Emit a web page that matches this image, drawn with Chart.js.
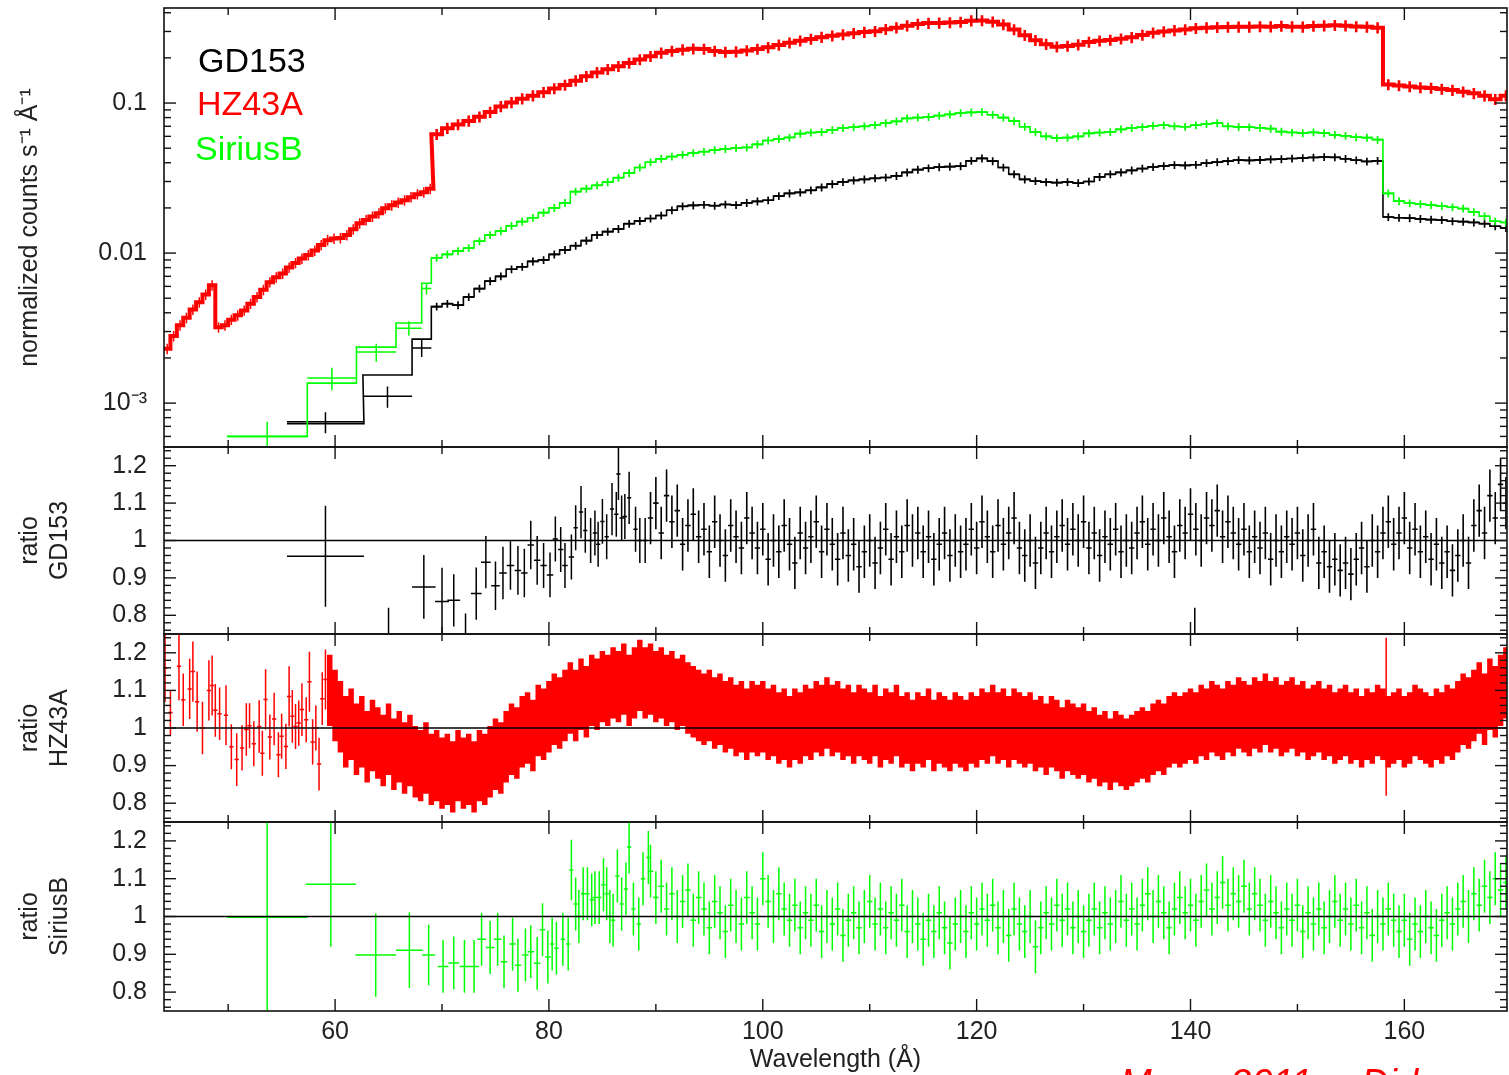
<!DOCTYPE html>
<html>
<head>
<meta charset="utf-8">
<script src="https://cdn.jsdelivr.net/npm/chart.js@4.4.1/dist/chart.umd.min.js"></script>
<style>
html,body{margin:0;padding:0;background:#fff;width:1509px;height:1075px;overflow:hidden;}
.panel{position:absolute;left:0;width:1509px;}
#note{position:absolute;left:1120px;top:1064px;font:italic 38px 'Liberation Sans',Arial,sans-serif;color:#ff0000;white-space:nowrap;word-spacing:28px;line-height:1;}
</style>
</head>
<body>
<div class="panel" style="top:0;height:457px"><canvas id="c1"></canvas></div>
<div class="panel" style="top:437px;height:207px"><canvas id="c2"></canvas></div>
<div class="panel" style="top:624px;height:208px"><canvas id="c3"></canvas></div>
<div class="panel" style="top:812px;height:263px"><canvas id="c4"></canvas></div>
<div id="note">May 2011, Dirk</div>
<script>
// ---------------- axes / ticks ----------------
const xMin = 44.0, xMax = 169.6;
const xMajorTicks = [60, 80, 100, 120, 140, 160];
const xTickLabels = ['60', '80', '100', '120', '140', '160'];
const xMinorTicks = [50, 70, 90, 110, 130, 150, 170];

const topMin = 5.1e-4, topMax = 0.43;
const topMajorTicks = [0.001, 0.01, 0.1];
const topTickLabels = ['10\u207B\u00B3', '0.01', '0.1'];
const topMinorTicks = [6e-4, 7e-4, 8e-4, 9e-4, 2e-3, 3e-3, 4e-3, 5e-3, 6e-3, 7e-3, 8e-3, 9e-3,
  0.02, 0.03, 0.04, 0.05, 0.06, 0.07, 0.08, 0.09, 0.2, 0.3, 0.4];

const ratioMin = 0.75, ratioMax = 1.25;
const ratioMajorTicks = [0.8, 0.9, 1, 1.1, 1.2];
const ratioTickLabels = ['0.8', '0.9', '1', '1.1', '1.2'];
const ratioMinorTicks = [0.76, 0.78, 0.82, 0.84, 0.86, 0.88, 0.92, 0.94, 0.96, 0.98,
  1.02, 1.04, 1.06, 1.08, 1.12, 1.14, 1.16, 1.18, 1.22, 1.24];

const seriesNames = ['GD153', 'HZ43A', 'SiriusB'];
const seriesColors = ['#000000', '#ff0000', '#00ff00'];

// ---------------- top panel: normalized counts ----------------
// GD153 wide low-resolution bins
const gdTopBinCenter = [59.1, 64.9, 68.1];
const gdTopBinHalf = [3.6, 2.3, 0.9];
const gdTopBinData = [7.5e-4, 1.11e-3, 2.33e-3];
const gdTopBinErr = [1.2e-4, 1.8e-4, 3.0e-4];
const gdTopBinModel = [7.3e-4, 1.54e-3, 2.67e-3];
// SiriusB wide bins
const sbTopBinCenter = [53.65, 59.7, 63.85, 66.9, 68.55];
const sbTopBinHalf = [3.75, 2.3, 1.85, 1.2, 0.45];
const sbTopBinData = [6.0e-4, 1.47e-3, 2.19e-3, 3.16e-3, 5.8e-3];
const sbTopBinErr = [1.5e-4, 2.5e-4, 3.0e-4, 3.5e-4, 5.0e-4];
const sbTopBinModel = [6.0e-4, 1.36e-3, 2.36e-3, 3.42e-3, 6.3e-3];
// HZ43A short-wavelength bins (start 44.3, step 0.6)
const hzTopLowStart = 44.3, hzTopLowStep = 0.6;
const hzTopLow = [2.3e-3, 2.8e-3, 3.3e-3, 3.7e-3, 4.2e-3, 4.7e-3, 5.3e-3, 6.1e-3, 3.2e-3, 3.3e-3,
  3.6e-3, 3.85e-3, 4.15e-3, 4.6e-3, 5.1e-3, 5.7e-3, 6.4e-3, 6.9e-3, 7.3e-3, 8.0e-3,
  8.6e-3, 9.2e-3, 9.7e-3, 0.0104, 0.0113, 0.0122, 0.0125, 0.0126, 0.0132, 0.0144,
  0.0158, 0.0166, 0.0175, 0.0184, 0.0199, 0.0208, 0.0217, 0.0225, 0.0236, 0.0247,
  0.0254, 0.0268];

// dense 1-A grid for all three from 69.5 A
const topGridStart = 69.5, topGridStep = 1.0;
const gdTop = [4.4e-3, 4.6e-3, 4.5e-3, 5.1e-3, 5.8e-3, 6.5e-3, 7.0e-3, 7.8e-3, 8.1e-3, 8.8e-3,
  9.0e-3, 9.8e-3, 0.0105, 0.0112, 0.0121, 0.0132, 0.0139, 0.0145, 0.0157, 0.0164,
  0.0170, 0.0178, 0.0193, 0.0205, 0.0208, 0.0210, 0.0207, 0.0211, 0.0209, 0.0216,
  0.0221, 0.0225, 0.0240, 0.0250, 0.0254, 0.0262, 0.0274, 0.0288, 0.0298, 0.0305,
  0.0310, 0.0315, 0.0319, 0.0327, 0.0345, 0.0360, 0.0368, 0.0374, 0.0377, 0.0380,
  0.0412, 0.0428, 0.0410, 0.0372, 0.0335, 0.0310, 0.0302, 0.0297, 0.0295, 0.0298,
  0.0293, 0.0300, 0.0322, 0.0335, 0.0345, 0.0356, 0.0366, 0.0375, 0.0381, 0.0386,
  0.0384, 0.0388, 0.0398, 0.0404, 0.0410, 0.0417, 0.0415, 0.0418, 0.0421, 0.0423,
  0.0427, 0.0430, 0.0434, 0.0437, 0.0435, 0.0425, 0.0416, 0.0408, 0.0412, 0.0174,
  0.0172, 0.0171, 0.0169, 0.0167, 0.0166, 0.0163, 0.0162, 0.0160, 0.0157, 0.0151, 0.0147];
const sbTop = [9.3e-3, 9.8e-3, 0.0103, 0.0108, 0.0120, 0.0132, 0.0140, 0.0152, 0.0162, 0.0172,
  0.0186, 0.0200, 0.0216, 0.0257, 0.0269, 0.0283, 0.0297, 0.0318, 0.0341, 0.0372,
  0.0403, 0.0425, 0.0440, 0.0452, 0.0465, 0.0474, 0.0486, 0.0495, 0.0501, 0.0506,
  0.0530, 0.0563, 0.0577, 0.0590, 0.0625, 0.0636, 0.0640, 0.0662, 0.0682, 0.0690,
  0.0700, 0.0714, 0.0735, 0.0755, 0.0790, 0.0800, 0.0808, 0.0825, 0.0840, 0.0858,
  0.0866, 0.0871, 0.0835, 0.0800, 0.0760, 0.0695, 0.0640, 0.0600, 0.0584, 0.0588,
  0.0600, 0.0628, 0.0636, 0.0642, 0.0668, 0.0682, 0.0692, 0.0705, 0.0712, 0.0700,
  0.0695, 0.0712, 0.0725, 0.0735, 0.0700, 0.0693, 0.0690, 0.0684, 0.0675, 0.0645,
  0.0637, 0.0630, 0.0638, 0.0630, 0.0614, 0.0605, 0.0592, 0.0588, 0.0570, 0.0250,
  0.0222, 0.0215, 0.0212, 0.0209, 0.0206, 0.0202, 0.0198, 0.0188, 0.0176, 0.0163, 0.0160];
const hzTop = [0.062, 0.068, 0.072, 0.076, 0.081, 0.087, 0.095, 0.101, 0.107, 0.112,
  0.118, 0.125, 0.132, 0.141, 0.151, 0.160, 0.168, 0.176, 0.185, 0.195,
  0.205, 0.216, 0.222, 0.227, 0.230, 0.229, 0.222, 0.219, 0.220, 0.224,
  0.229, 0.235, 0.244, 0.252, 0.260, 0.267, 0.275, 0.281, 0.286, 0.292,
  0.297, 0.301, 0.310, 0.318, 0.328, 0.336, 0.341, 0.342, 0.344, 0.347,
  0.354, 0.355, 0.348, 0.334, 0.309, 0.283, 0.262, 0.247, 0.237, 0.240,
  0.245, 0.255, 0.260, 0.263, 0.268, 0.274, 0.284, 0.294, 0.300, 0.305,
  0.309, 0.315, 0.318, 0.320, 0.321, 0.322, 0.322, 0.324, 0.323, 0.326,
  0.323, 0.322, 0.326, 0.328, 0.330, 0.328, 0.324, 0.322, 0.318, 0.133,
  0.131, 0.129, 0.127, 0.126, 0.124, 0.122, 0.119, 0.116, 0.112, 0.106, 0.112];
const gdTopRelErr = 0.06, sbTopRelErr = 0.06, hzTopRelErr = 0.085, hzTopLowRelErr = 0.08;

// ---------------- ratio panels ----------------
// GD153: individual bins
const gdRatioLowX = [59.1, 65.0, 68.3, 70.0, 71.1, 72.2, 73.2, 74.1, 75.0, 75.7,
  76.4, 77.1, 77.7, 78.3, 78.9, 79.5, 80.1, 80.6, 81.1, 81.5,
  82.1, 82.5, 83.0, 83.4, 83.9, 84.3, 84.6, 85.0, 85.4, 85.9,
  86.3, 86.5, 86.8, 87.1, 87.5, 88.1, 88.5, 89.0, 140.4];
const gdRatioLowHalf = [3.6, 2.3, 1.1, 0.65, 0.6, 0.5, 0.5, 0.45, 0.4, 0.35,
  0.35, 0.3, 0.3, 0.3, 0.3, 0.3, 0.3, 0.25, 0.25, 0.25,
  0.25, 0.2, 0.2, 0.2, 0.2, 0.2, 0.2, 0.2, 0.2, 0.2,
  0.2, 0.2, 0.2, 0.2, 0.2, 0.2, 0.2, 0.2, 0.1];
const gdRatioLow = [0.958, 0.72, 0.876, 0.837, 0.84, 0.74, 0.858, 0.942, 0.879, 0.913,
  0.933, 0.92, 0.913, 0.988, 0.947, 0.933, 0.908, 1.004, 0.976, 0.933,
  0.956, 1.034, 1.076, 1.027, 1.0, 1.02, 0.99, 1.051, 1.01, 1.084,
  1.07, 1.178, 1.06, 1.064, 1.114, 1.03, 1.0, 1.0, 0.74];
const gdRatioLowErr = [0.135, 0.1, 0.085, 0.09, 0.07, 0.065, 0.07, 0.07, 0.065, 0.07,
  0.065, 0.065, 0.065, 0.065, 0.065, 0.06, 0.06, 0.06, 0.06, 0.06,
  0.06, 0.06, 0.07, 0.06, 0.06, 0.06, 0.06, 0.06, 0.06, 0.07,
  0.06, 0.07, 0.06, 0.06, 0.07, 0.06, 0.06, 0.06, 0.08];
// GD153: dense 0.5-A grid from 89.5 A
const gdRatioStart = 89.5, gdRatioStep = 0.5, gdRatioErr = 0.07;
const gdRatio = [1.06, 1.10, 1.02, 1.12, 1.05, 1.08, 0.99, 1.04, 1.07, 1.01,
  1.03, 0.97, 1.05, 1.00, 0.96, 1.04, 1.01, 0.98, 1.06, 1.02,
  0.98, 1.03, 0.95, 1.00, 0.97, 1.04, 0.99, 0.94, 1.02, 0.98,
  1.01, 1.05, 0.97, 1.03, 0.99, 0.95, 1.02, 0.96, 0.99, 0.93,
  0.97, 1.00, 0.94, 0.98, 1.03, 0.95, 1.01, 0.97, 1.04, 1.00,
  1.02, 0.97, 1.01, 0.95, 0.99, 1.02, 0.96, 1.00, 0.97, 0.99,
  1.03, 0.98, 1.05, 1.01, 0.97, 1.04, 0.99, 1.02, 1.06, 0.98,
  0.96, 1.00, 0.94, 0.98, 1.02, 0.97, 1.01, 1.04, 0.99, 1.03,
  1.00, 1.05, 0.98, 1.02, 0.96, 1.01, 0.99, 1.03, 0.97, 1.00,
  0.98, 1.02, 1.05, 0.99, 1.03, 1.00, 1.06, 1.01, 0.97, 1.04,
  1.02, 1.07, 1.03, 1.00, 1.06, 1.04, 1.08, 1.01, 1.05, 1.02,
  0.99, 1.03, 0.97, 1.01, 0.98, 1.02, 0.95, 1.00, 0.97, 1.01,
  0.99, 1.02, 0.96, 1.00, 1.03, 0.94, 0.97, 0.93, 0.95, 0.92,
  0.94, 0.91, 0.95, 0.98, 0.93, 1.00, 0.97, 1.02, 1.05, 0.99,
  1.02, 1.06, 0.98, 1.03, 0.97, 1.01, 0.95, 0.99, 0.94, 0.97,
  0.92, 0.96, 1.00, 0.94, 1.04, 1.08, 1.02, 1.12, 1.06, 1.15,
  1.10];

// HZ43A: individual bins
const hzRatioLowX = [44.1, 44.6, 45.4, 45.8, 46.4, 46.7, 47.1, 47.6, 48.2, 48.5,
  48.8, 49.2, 49.8, 50.3, 50.8, 51.3, 51.7, 52.0, 52.4, 52.9,
  53.2, 53.5, 53.9, 54.3, 54.7, 55.0, 55.4, 55.7, 56.0, 56.3,
  56.6, 56.9, 57.3, 57.6, 57.9, 58.2, 58.5, 58.8, 59.1, 158.3];
const hzRatioLow = [1.159, 1.041, 1.164, 1.075, 1.104, 1.15, 1.07, 1.0, 1.1, 1.113,
  1.047, 1.038, 1.034, 0.95, 0.916, 0.947, 0.996, 1.006, 0.958, 1.004,
  0.933, 1.076, 0.976, 1.024, 0.929, 0.978, 0.951, 1.084, 1.031, 1.004,
  1.013, 1.049, 1.022, 1.123, 0.963, 1.0, 0.904, 1.078, 1.129, 1.03];
const hzRatioLowErr = [0.09, 0.06, 0.09, 0.07, 0.08, 0.08, 0.08, 0.07, 0.08, 0.08,
  0.07, 0.07, 0.08, 0.06, 0.07, 0.06, 0.07, 0.06, 0.06, 0.07,
  0.06, 0.08, 0.06, 0.07, 0.06, 0.06, 0.06, 0.08, 0.07, 0.06,
  0.06, 0.07, 0.06, 0.08, 0.06, 0.06, 0.07, 0.07, 0.08, 0.21];
const hzRatioLowHalf = 0.2;
// HZ43A: dense 0.5-A grid from 59.5 A
const hzRatioStart = 59.5, hzRatioStep = 0.5, hzRatioErr = 0.095;
const hzRatio = [1.10, 1.06, 1.03, 0.99, 1.01, 0.97, 0.99, 0.95, 0.98, 0.96,
  0.94, 0.97, 0.93, 0.95, 0.92, 0.94, 0.91, 0.90, 0.92, 0.89,
  0.90, 0.88, 0.89, 0.87, 0.90, 0.88, 0.89, 0.87, 0.90, 0.89,
  0.91, 0.93, 0.92, 0.95, 0.97, 0.96, 0.99, 1.00, 0.98, 1.02,
  1.01, 1.03, 1.05, 1.04, 1.06, 1.08, 1.06, 1.09, 1.07, 1.10,
  1.09, 1.11, 1.10, 1.12, 1.11, 1.13, 1.10, 1.12, 1.14, 1.12,
  1.13, 1.11, 1.12, 1.10, 1.11, 1.09, 1.10, 1.08, 1.07, 1.06,
  1.05, 1.06, 1.04, 1.05, 1.03, 1.04, 1.02, 1.03, 1.01, 1.03,
  1.02, 1.03, 1.01, 1.02, 1.00, 1.01, 0.99, 1.01, 1.00, 1.02,
  1.01, 1.03, 1.02, 1.04, 1.02, 1.03, 1.01, 1.02, 1.00, 1.02,
  1.01, 1.00, 1.02, 0.99, 1.01, 1.00, 1.02, 0.99, 1.00, 0.98,
  1.00, 0.99, 1.01, 0.98, 1.00, 0.99, 0.98, 1.00, 0.99, 0.98,
  1.00, 0.99, 1.01, 1.00, 1.02, 1.00, 1.01, 0.99, 1.01, 1.00,
  0.99, 1.00, 0.98, 0.99, 0.97, 0.99, 0.98, 0.96, 0.98, 0.97,
  0.96, 0.97, 0.95, 0.96, 0.94, 0.95, 0.93, 0.95, 0.94, 0.93,
  0.94, 0.95, 0.96, 0.95, 0.97, 0.98, 0.97, 0.99, 1.00, 0.99,
  1.00, 1.01, 1.00, 1.02, 1.01, 1.03, 1.02, 1.01, 1.03, 1.02,
  1.04, 1.03, 1.02, 1.04, 1.03, 1.05, 1.03, 1.04, 1.02, 1.03,
  1.04, 1.02, 1.03, 1.01, 1.02, 1.03, 1.01, 1.02, 1.00, 1.01,
  1.02, 1.00, 1.01, 0.99, 1.01, 1.00, 1.02, 1.01, 0.99, 1.00,
  1.01, 0.99, 1.00, 1.02, 1.01, 1.00, 0.99, 1.01, 1.00, 1.02,
  1.01, 1.03, 1.05, 1.04, 1.06, 1.08, 1.05, 1.09, 1.07, 1.10,
  1.12];

// SiriusB: individual bins
const sbRatioLowX = [53.65, 59.6, 63.8, 66.95, 68.75, 70.1, 71.1, 72.1, 73.0, 73.7,
  74.5, 75.2, 75.8, 76.6, 77.1, 77.8, 78.3, 78.9, 79.4, 79.9,
  80.3, 80.7, 81.3, 81.8, 82.1, 82.5, 82.8, 83.2, 83.6, 84.0,
  84.3, 84.7, 85.1, 85.4, 85.7, 86.0, 86.4, 86.8, 87.2, 87.5,
  87.9, 88.4, 88.8, 89.3];
const sbRatioLowHalf = [3.75, 2.35, 1.9, 1.25, 0.6, 0.5, 0.5, 0.45, 0.45, 0.4,
  0.4, 0.35, 0.3, 0.3, 0.3, 0.3, 0.3, 0.3, 0.25, 0.25,
  0.2, 0.2, 0.2, 0.2, 0.2, 0.2, 0.2, 0.2, 0.2, 0.2,
  0.2, 0.2, 0.2, 0.2, 0.2, 0.2, 0.2, 0.2, 0.2, 0.2,
  0.2, 0.2, 0.2, 0.2];
const sbRatioLow = [0.998, 1.085, 0.898, 0.911, 0.898, 0.868, 0.877, 0.868, 0.868, 0.94,
  0.918, 0.94, 0.88, 0.927, 0.871, 0.898, 0.907, 0.876, 0.965, 0.893,
  0.927, 0.916, 0.94, 0.927, 1.123, 1.033, 1.0, 1.06, 1.06, 1.044,
  1.05, 1.05, 1.084, 1.06, 1.0, 0.99, 1.107, 1.033, 1.073, 1.184,
  1.02, 0.98, 1.1, 1.156];
const sbRatioLowErr = [0.3, 0.165, 0.11, 0.1, 0.08, 0.07, 0.07, 0.07, 0.07, 0.07,
  0.07, 0.07, 0.07, 0.07, 0.07, 0.07, 0.07, 0.07, 0.07, 0.07,
  0.07, 0.07, 0.07, 0.07, 0.08, 0.07, 0.07, 0.07, 0.07, 0.07,
  0.07, 0.07, 0.07, 0.07, 0.07, 0.07, 0.07, 0.07, 0.07, 0.07,
  0.07, 0.07, 0.07, 0.07];
// SiriusB: dense 0.5-A grid from 89.5 A
const sbRatioStart = 89.5, sbRatioStep = 0.5, sbRatioErr = 0.07;
const sbRatio = [1.12, 1.05, 1.08, 1.02, 1.06, 1.00, 1.04, 1.07, 0.99, 1.05,
  1.02, 0.97, 1.04, 1.01, 0.96, 1.03, 1.00, 0.98, 1.05, 1.01,
  0.98, 1.10, 1.04, 1.00, 1.06, 1.02, 0.99, 1.03, 0.97, 1.01,
  0.99, 1.03, 0.96, 1.00, 0.98, 1.02, 0.95, 0.99, 1.01, 0.97,
  1.00, 1.04, 0.98, 1.02, 0.97, 1.01, 0.99, 1.03, 0.96, 1.00,
  0.98, 0.94, 0.99, 0.96, 1.01, 0.97, 0.93, 0.98, 1.00, 0.96,
  1.01, 0.98, 1.02, 0.99, 1.03, 0.97, 1.00, 0.95, 1.02, 0.98,
  0.96, 1.00, 0.92, 0.97, 1.01, 0.98, 1.03, 0.99, 1.02, 0.97,
  1.00, 0.96, 0.99, 1.02, 0.97, 1.01, 0.98, 1.00, 1.04, 0.99,
  1.02, 0.98, 1.03, 1.06, 1.00, 1.04, 1.01, 0.97, 1.02, 1.05,
  1.01, 1.03, 0.99, 1.04, 1.07, 1.02, 1.05, 1.09, 1.03, 1.06,
  1.04, 1.08, 1.02, 1.06, 1.03, 0.99, 1.04, 1.01, 0.97, 1.02,
  0.99, 1.03, 0.96, 1.01, 0.98, 1.02, 0.97, 1.00, 1.04, 0.99,
  1.02, 0.98, 1.03, 0.97, 1.01, 0.95, 1.00, 0.98, 1.02, 0.99,
  0.96, 0.99, 0.94, 0.98, 0.96, 1.00, 0.97, 0.95, 0.99, 1.01,
  0.98, 1.02, 1.04, 1.00, 1.06, 1.03, 1.08, 1.05, 1.10, 1.07,
  1.09];

// ---------------- helpers ----------------
const FONT = "'Liberation Sans', Arial, Helvetica, sans-serif";
Chart.defaults.font.family = FONT;
Chart.defaults.color = '#222';

function grid(start, step, n) {
  const a = [];
  for (let i = 0; i < n; i++) a.push(Math.round((start + i * step) * 1000) / 1000);
  return a;
}
function pick(h, i) { return Array.isArray(h) ? h[i] : h; }
function stepLine(cx, half, v) {
  const pts = [];
  for (let i = 0; i < cx.length; i++) {
    const h = pick(half, i);
    pts.push({ x: cx[i] - h, y: v[i] }, { x: cx[i] + h, y: v[i] });
  }
  return pts;
}
function crosses(cx, half, v, errAbs, floor) {
  const pts = [];
  for (let i = 0; i < cx.length; i++) {
    const h = pick(half, i), e = errAbs(i);
    let lo = v[i] - e;
    if (floor !== undefined && lo <= floor) lo = floor;
    pts.push({ x: cx[i] - h, y: v[i] }, { x: cx[i] + h, y: v[i] }, { x: cx[i], y: null },
             { x: cx[i], y: lo }, { x: cx[i], y: v[i] + e }, { x: cx[i], y: null });
  }
  return pts;
}
function lineDs(data, color, width, order) {
  return { type: 'line', data, borderColor: color, backgroundColor: color, borderWidth: width,
           pointRadius: 0, tension: 0, spanGaps: false, fill: false, order: order || 0 };
}

const framePlugin = {
  id: 'frameTicks',
  afterDraw(chart, args, opts) {
    const { ctx, chartArea: a } = chart;
    const xs = chart.scales.x, ys = chart.scales.y;
    const isLog = opts.kind === 'log';
    const yMaj = isLog ? topMajorTicks : ratioMajorTicks;
    const yMin = isLog ? topMinorTicks : ratioMinorTicks;
    ctx.save();
    ctx.strokeStyle = '#111';
    ctx.lineWidth = 1.6;
    ctx.strokeRect(a.left, a.top, a.right - a.left, a.bottom - a.top);
    ctx.lineWidth = 1.4;
    const seg = (x1, y1, x2, y2) => { ctx.beginPath(); ctx.moveTo(x1, y1); ctx.lineTo(x2, y2); ctx.stroke(); };
    [[xMajorTicks, 12], [xMinorTicks, 7]].forEach(([vals, len]) => vals.forEach(v => {
      const px = xs.getPixelForValue(v);
      if (px < a.left - 0.5 || px > a.right + 0.5) return;
      seg(px, a.top, px, a.top + len); seg(px, a.bottom, px, a.bottom - len);
    }));
    [[yMaj, 12], [yMin, 7]].forEach(([vals, len]) => vals.forEach(v => {
      const py = ys.getPixelForValue(v);
      if (py < a.top - 0.5 || py > a.bottom + 0.5) return;
      seg(a.left, py, a.left + len, py); seg(a.right, py, a.right - len, py);
    }));
    if (opts.legend) {
      ctx.font = '34px ' + FONT;
      ctx.textBaseline = 'alphabetic';
      ctx.textAlign = 'left';
      const offs = [[34, 64], [33, 107], [31, 152]];
      seriesNames.forEach((n, i) => {
        ctx.fillStyle = seriesColors[i];
        ctx.fillText(n, a.left + offs[i][0], a.top + offs[i][1]);
      });
    }
    ctx.restore();
  }
};

function options(p) {
  return {
    responsive: true, maintainAspectRatio: false, animation: false, devicePixelRatio: 1, events: [],
    layout: { autoPadding: false, padding: { left: 0, right: 2, top: p.padTop, bottom: p.padBottom } },
    plugins: { legend: { display: false }, tooltip: { enabled: false }, frameTicks: { kind: p.kind, legend: !!p.legend } },
    scales: {
      x: {
        type: 'linear', min: xMin, max: xMax, bounds: 'data', display: !!p.showX,
        grid: { display: false, drawTicks: false }, border: { display: false },
        afterBuildTicks: s => { s.ticks = xMajorTicks.map(v => ({ value: v })); },
        ticks: { callback: (v, i) => xTickLabels[i], font: { size: 25 }, padding: 6, color: '#222',
                 maxRotation: 0, autoSkip: false },
        title: { display: !!p.showX, text: 'Wavelength (Å)', font: { size: 25 }, padding: { top: 0, bottom: 0 }, color: '#222' },
        afterFit: s => { if (p.showX) s.height = 64; s.paddingLeft = 0; s.paddingRight = 0; }
      },
      y: {
        type: p.kind === 'log' ? 'logarithmic' : 'linear',
        min: p.kind === 'log' ? topMin : ratioMin, max: p.kind === 'log' ? topMax : ratioMax, bounds: 'data',
        grid: { display: false, drawTicks: false }, border: { display: false },
        afterBuildTicks: s => { s.ticks = (p.kind === 'log' ? topMajorTicks : ratioMajorTicks).map(v => ({ value: v })); },
        ticks: { callback: (v, i) => (p.kind === 'log' ? topTickLabels : ratioTickLabels)[i],
                 font: { size: 25 }, padding: 17, color: '#222', autoSkip: false },
        title: { display: true, text: p.yTitle, font: { size: 25 }, padding: { top: 15, bottom: 0 }, color: '#222' },
        afterFit: s => { s.width = 164; s.paddingTop = 0; s.paddingBottom = 0; }
      }
    }
  };
}

// ---------------- panel 1 ----------------
const topGrid = grid(topGridStart, topGridStep, gdTop.length);
const hzLowGrid = grid(hzTopLowStart, hzTopLowStep, hzTopLow.length);

const p1 = [];
// HZ43A
p1.push(lineDs(stepLine(hzLowGrid, 0.3, hzTopLow).concat(stepLine(topGrid, 0.5, hzTop)), seriesColors[1], 4, 3));
p1.push(lineDs(crosses(hzLowGrid, 0.3, hzTopLow, i => hzTopLow[i] * hzTopLowRelErr), seriesColors[1], 1.5, 3));
p1.push(lineDs(crosses(topGrid, 0.5, hzTop, i => hzTop[i] * hzTopRelErr), seriesColors[1], 2.6, 3));
// GD153
p1.push(lineDs(stepLine(gdTopBinCenter, gdTopBinHalf, gdTopBinModel).concat(stepLine(topGrid, 0.5, gdTop)), seriesColors[0], 1.6, 2));
p1.push(lineDs(crosses(gdTopBinCenter, gdTopBinHalf, gdTopBinData, i => gdTopBinErr[i], 1e-4), seriesColors[0], 1.5, 2));
p1.push(lineDs(crosses(topGrid, 0.5, gdTop, i => gdTop[i] * gdTopRelErr), seriesColors[0], 1.7, 2));
// SiriusB
p1.push(lineDs(stepLine(sbTopBinCenter, sbTopBinHalf, sbTopBinModel).concat(stepLine(topGrid, 0.5, sbTop)), seriesColors[2], 1.6, 1));
p1.push(lineDs(crosses(sbTopBinCenter, sbTopBinHalf, sbTopBinData, i => sbTopBinErr[i], 1e-4), seriesColors[2], 1.5, 1));
p1.push(lineDs(crosses(topGrid, 0.5, sbTop, i => sbTop[i] * sbTopRelErr), seriesColors[2], 1.7, 1));

new Chart(document.getElementById('c1'), {
  type: 'line', data: { datasets: p1 },
  options: options({ kind: 'log', padTop: 8, padBottom: 10, legend: true,
                     yTitle: 'normalized counts s\u207B\u00B9 Å\u207B\u00B9' }),
  plugins: [framePlugin]
});

// ---------------- ratio panels ----------------
const unity = () => lineDs([{ x: xMin, y: 1 }, { x: xMax, y: 1 }], '#000', 1.6, -5);

const gdGrid = grid(gdRatioStart, gdRatioStep, gdRatio.length);
new Chart(document.getElementById('c2'), {
  type: 'line',
  data: { datasets: [
    unity(),
    lineDs(crosses(gdRatioLowX, gdRatioLowHalf, gdRatioLow, i => gdRatioLowErr[i]), seriesColors[0], 1.5, 1),
    lineDs(crosses(gdGrid, 0.25, gdRatio, i => gdRatioErr), seriesColors[0], 1.6, 1)
  ] },
  options: options({ kind: 'ratio', padTop: 10, padBottom: 10, yTitle: ['ratio', seriesNames[0]] }),
  plugins: [framePlugin]
});

const hzGrid = grid(hzRatioStart, hzRatioStep, hzRatio.length);
new Chart(document.getElementById('c3'), {
  type: 'line',
  data: { datasets: [
    unity(),
    lineDs(crosses(hzRatioLowX, hzRatioLowHalf, hzRatioLow, i => hzRatioLowErr[i]), seriesColors[1], 1.5, 1),
    lineDs(crosses(hzGrid, 0.25, hzRatio, i => hzRatioErr), seriesColors[1], 5.5, 2)
  ] },
  options: options({ kind: 'ratio', padTop: 10, padBottom: 10, yTitle: ['ratio', seriesNames[1]] }),
  plugins: [framePlugin]
});

const sbGrid = grid(sbRatioStart, sbRatioStep, sbRatio.length);
new Chart(document.getElementById('c4'), {
  type: 'line',
  data: { datasets: [
    unity(),
    lineDs(crosses(sbRatioLowX, sbRatioLowHalf, sbRatioLow, i => sbRatioLowErr[i]), seriesColors[2], 1.5, 1),
    lineDs(crosses(sbGrid, 0.25, sbRatio, i => sbRatioErr), seriesColors[2], 1.5, 1)
  ] },
  options: options({ kind: 'ratio', padTop: 10, padBottom: 0, showX: true, yTitle: ['ratio', seriesNames[2]] }),
  plugins: [framePlugin]
});
</script>
</body>
</html>
